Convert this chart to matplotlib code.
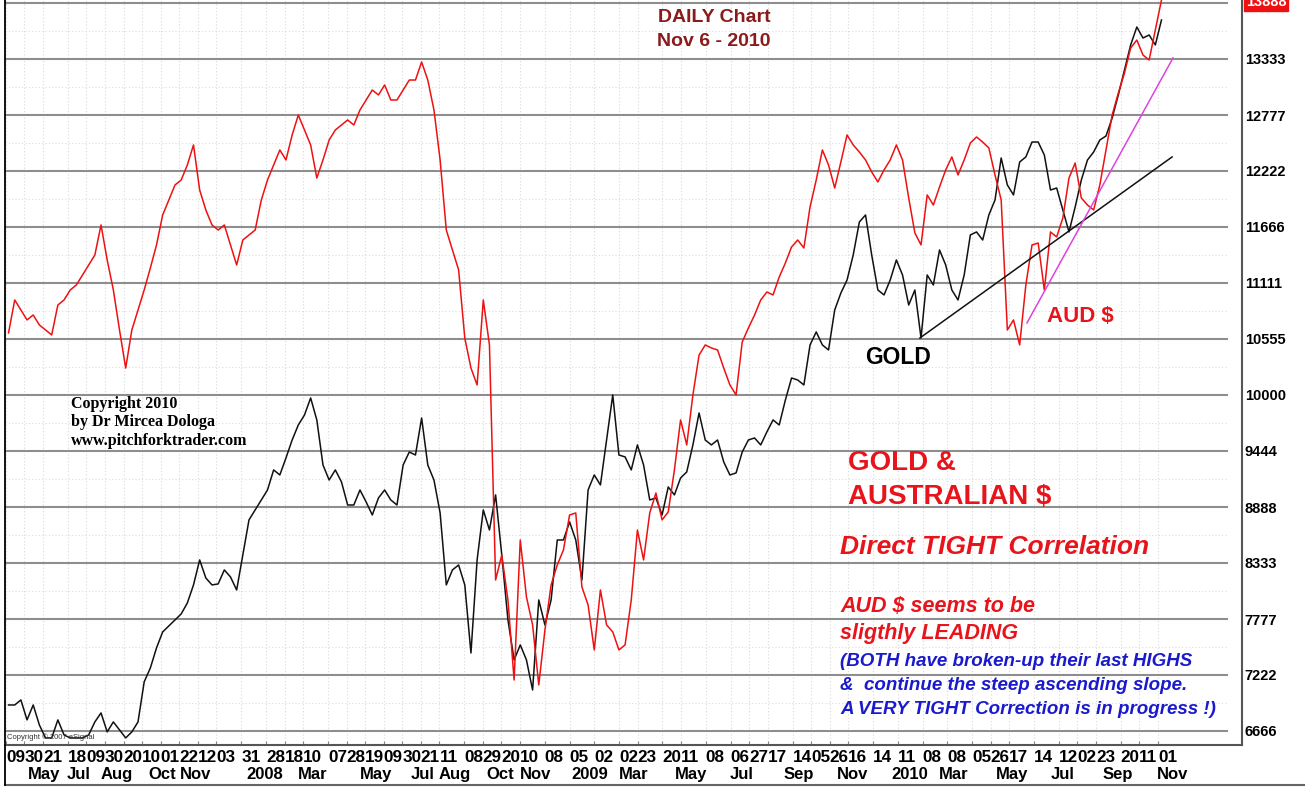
import matplotlib
matplotlib.use('Agg')
import matplotlib.pyplot as plt
import matplotlib.transforms as mtransforms
from matplotlib.lines import Line2D
import pandas as pd

plt.rcParams['font.family'] = ['Liberation Sans', 'DejaVu Sans']

W, H = 1305, 787

# ---------------- data ----------------
start_date = '2007-04-12'
end_date = '2010-11-05'

aud = [
    10615, 10942, 10843, 10744, 10793, 10694, 10644, 10595, 10892, 10942,
    11041, 11091, 11190, 11289, 11388, 11686, 11339, 11041, 10644, 10267,
    10644, 10843, 11041, 11259, 11488, 11785, 11934, 12083, 12132, 12281,
    12480, 12033, 11835, 11686, 11636, 11686, 11488, 11289, 11537, 11587,
    11636, 11934, 12132, 12281, 12430, 12331, 12579, 12777, 12628, 12480,
    12152, 12331, 12529, 12628, 12678, 12728, 12678, 12827, 12926, 13025,
    12976, 13075, 12926, 12926, 13025, 13124, 13124, 13303, 13124, 12827,
    12331, 11636, 11438, 11240, 10565, 10267, 10099, 10942, 10496, 8164,
    8412, 7966, 7172, 8561, 7996, 7718, 7123, 7668, 8115, 8313,
    8462, 8809, 8829, 8095, 7916, 7470, 8065, 7718, 7649, 7470,
    7520, 7966, 8660, 8363, 8829, 9027, 8760, 8839, 9256, 9752,
    9504, 10000, 10396, 10496, 10466, 10446, 10267, 10099, 10000, 10525,
    10664, 10793, 10942, 11021, 10992, 11170, 11309, 11468, 11537, 11458,
    11865, 12132, 12430, 12281, 12053, 12311, 12579, 12480, 12410, 12331,
    12212, 12113, 12232, 12331, 12480, 12331, 11954, 11607, 11488, 11984,
    11884, 12063, 12232, 12361, 12182, 12331, 12499, 12559, 12509, 12450,
    12182, 11934, 10644, 10744, 10496, 11091, 11488, 11507, 11041, 11617,
    11567, 11755, 12152, 12301, 11954, 11884, 11835, 12083, 12430, 12777,
    12995, 13194, 13442, 13521, 13372, 13323, 13620, 13918]

gold = [
    6924, 6924, 6974, 6776, 6924, 6726, 6597, 6597, 6776, 6627,
    6597, 6597, 6597, 6627, 6756, 6845, 6657, 6756, 6676, 6597,
    6657, 6756, 7153, 7291, 7490, 7649, 7708, 7768, 7827, 7936,
    8115, 8363, 8184, 8115, 8125, 8264, 8194, 8065, 8412, 8760,
    8859, 8958, 9057, 9256, 9206, 9375, 9553, 9702, 9801, 9970,
    9752, 9305, 9156, 9256, 9137, 8908, 8908, 9057, 8938, 8809,
    8978, 9057, 8958, 8908, 9305, 9434, 9404, 9771, 9305, 9156,
    8829, 8115, 8264, 8313, 8115, 7440, 8363, 8859, 8660, 9008,
    8412, 7768, 7371, 7520, 7371, 7073, 7966, 7718, 7966, 8561,
    8561, 8740, 8561, 8164, 9057, 9206, 9107, 9553, 10000, 9404,
    9385, 9256, 9504, 9305, 8958, 8978, 8809, 9087, 9008, 9176,
    9236, 9504, 9821, 9553, 9504, 9553, 9335, 9206, 9226, 9434,
    9553, 9573, 9504, 9633, 9752, 9702, 9950, 10168, 10148, 10099,
    10496, 10625, 10496, 10446, 10843, 11011, 11140, 11388, 11716, 11785,
    11388, 11041, 10992, 11140, 11339, 11190, 10892, 11041, 10565, 11190,
    11091, 11438, 11289, 11041, 10942, 11190, 11587, 11617, 11537, 11785,
    11934, 12351, 12083, 11984, 12311, 12361, 12509, 12509, 12380, 12033,
    12053, 11835, 11617, 11865, 12132, 12331, 12410, 12529, 12569, 12747,
    12976, 13224, 13472, 13650, 13541, 13571, 13472, 13720]

level_labels = ['6666', '7222', '7777', '8333', '8888', '9444', '10000',
                '10555', '11111', '11666', '12222', '12777', '13333', '13888']

day_tick_dates = [
    '2007-04-09', '2007-04-30', '2007-05-21', '2007-06-18', '2007-07-09',
    '2007-07-30', '2007-08-20', '2007-09-10', '2007-10-01', '2007-10-22',
    '2007-11-12', '2007-12-03', '2007-12-31', '2008-01-28', '2008-02-18',
    '2008-03-10', '2008-04-07', '2008-04-28', '2008-05-19', '2008-06-09',
    '2008-06-30', '2008-07-21', '2008-08-11', '2008-09-08', '2008-09-29',
    '2008-10-20', '2008-11-10', '2008-12-08', '2009-01-05', '2009-02-02',
    '2009-03-02', '2009-03-23', '2009-04-20', '2009-05-11', '2009-06-08',
    '2009-07-06', '2009-07-27', '2009-08-17', '2009-09-14', '2009-10-05',
    '2009-10-26', '2009-11-16', '2009-12-14', '2010-01-11', '2010-02-08',
    '2010-03-08', '2010-04-05', '2010-04-26', '2010-05-17', '2010-06-14',
    '2010-07-12', '2010-08-02', '2010-08-23', '2010-09-20', '2010-10-11',
    '2010-11-01']

month_labels = ['May', 'Jul', 'Aug', 'Oct', 'Nov', '2008', 'Mar', 'May', 'Jul',
                'Aug', 'Oct', 'Nov', '2009', 'Mar', 'May', 'Jul', 'Sep', 'Nov',
                '2010', 'Mar', 'May', 'Jul', 'Sep', 'Nov']
month_label_dates = ['2007-05-22', '2007-06-30', '2007-08-12', '2007-10-03',
                     '2007-11-09', '2008-01-27', '2008-03-21', '2008-05-31',
                     '2008-07-23', '2008-08-28', '2008-10-19', '2008-11-28',
                     '2009-01-28', '2009-03-19', '2009-05-22', '2009-07-18',
                     '2009-09-21', '2009-11-21', '2010-01-25', '2010-03-15',
                     '2010-05-20', '2010-07-16', '2010-09-17', '2010-11-17']

gold_trend_dates = ['2010-02-05', '2010-11-17']
gold_trend_values = [10565, 12361]
aud_trend_dates = ['2010-06-06', '2010-11-18']
aud_trend_values = [10714, 13343]

# ---------------- figure ----------------
dates = pd.date_range(start_date, end_date, periods=len(aud))

fig = plt.figure(figsize=(W / 100, H / 100), dpi=100)
ax_left, ax_right, ax_top, ax_bottom = 5, 1242, 0, 745
ax = fig.add_axes([ax_left / W, (H - ax_bottom) / H,
                   (ax_right - ax_left) / W, (ax_bottom - ax_top) / H])

ax.set_xlim(pd.Timestamp('2007-04-08'), pd.Timestamp('2011-02-04'))
ax.set_ylim(6527, 13918)

levels = [float(v) for v in level_labels]
# faint dotted grid
for d in day_tick_dates:
    ax.axvline(pd.Timestamp(d), color='#d9d9d9', lw=0.8, ls=(0, (1, 2)), zorder=0)
for a, b in zip(levels[:-1], levels[1:]):
    ax.axhline((a + b) / 2, color='#dddddd', lw=0.8, ls=(0, (1, 2)),
               xmax=0.988, zorder=0)
ax.axhline(levels[0] - 277, color='#dddddd', lw=0.8, ls=(0, (1, 2)), xmax=0.988, zorder=0)
for v in levels:
    ax.axhline(v, color='#8e8e8e', lw=1.5, xmax=0.988, zorder=1)

ax.plot(dates, gold, color='#111111', lw=1.1, zorder=3)
ax.plot(dates, aud, color='#ee1111', lw=1.1, zorder=4)

ax.plot(pd.to_datetime(gold_trend_dates), gold_trend_values, color='#111111', lw=1.1, zorder=5)
ax.plot(pd.to_datetime(aud_trend_dates), aud_trend_values, color='#dd44dd', lw=1.1, zorder=5)

# spines
ax.spines['top'].set_visible(False)
ax.spines['left'].set_color('black')
ax.spines['left'].set_linewidth(1.3)
ax.spines['bottom'].set_color('#555555')
ax.spines['bottom'].set_linewidth(1.5)
ax.spines['right'].set_color('#555555')
ax.spines['right'].set_linewidth(1.5)

# y ticks on right
ax.yaxis.tick_right()
ax.set_yticks(levels[:-1])
ax.set_yticklabels(level_labels[:-1], fontsize=10.5, fontweight='bold')
ax.tick_params(axis='y', length=0, pad=2)
# current price tag (partly above the top edge, as in the original)
ax.text(1.003, levels[-1] + 15, level_labels[-1],
        transform=mtransforms.blended_transform_factory(ax.transAxes, ax.transData),
        ha='left', va='center', fontsize=10.5, fontweight='bold', color='white',
        bbox=dict(boxstyle='square,pad=0.15', fc='#ee1111', ec='#ee1111'), clip_on=False)

# x ticks / labels
ax.set_xticks(pd.to_datetime(day_tick_dates))
ax.set_xticklabels([])
ax.tick_params(axis='x', length=3, direction='in', color='#888888')
trans = mtransforms.blended_transform_factory(ax.transData, ax.transAxes)
for d in day_tick_dates:
    ax.text(pd.Timestamp(d), -0.0165, d[8:10], transform=trans, ha='left', va='center',
            fontsize=12.3, fontweight='bold', clip_on=False)
for d, lab in zip(month_label_dates, month_labels):
    ax.text(pd.Timestamp(d), -0.039, lab, transform=trans, ha='center', va='center',
            fontsize=12, fontweight='bold', clip_on=False)

# outer frame of date area
fig.add_artist(Line2D([ax_left / W, 1.0], [1 - 785 / H] * 2, color='#666666', lw=1.5))
fig.add_artist(Line2D([ax_left / W] * 2, [1 - 785 / H, 1 - ax_bottom / H], color='black', lw=1.3))


def ft(x, y, s, **kw):
    fig.text(x / W, 1 - y / H, s, **kw)


dark_red = '#8b1a1a'
red = '#e8141b'
blue = '#1a1acc'
ft(714, 17, 'DAILY Chart', color=dark_red, fontsize=14, fontweight='bold', ha='center', va='center')
ft(714, 42, 'Nov 6 - 2010', color=dark_red, fontsize=14, fontweight='bold', ha='center', va='center')

for i, line in enumerate(['Copyright 2010', 'by Dr Mircea Dologa', 'www.pitchforktrader.com']):
    ft(71, 404 + 18.5 * i, line, family=['Liberation Serif', 'DejaVu Serif'], fontsize=11.5,
       fontweight='bold', ha='left', va='center')

ft(865, 357, 'GOLD', color='black', fontsize=16.5, fontweight='bold', ha='left', va='center')
ft(1047, 316, 'AUD $', color=red, fontsize=16, fontweight='bold', ha='left', va='center')
ft(848, 463, 'GOLD &', color=red, fontsize=20, fontweight='bold', ha='left', va='center')
ft(848, 497, 'AUSTRALIAN $', color=red, fontsize=20, fontweight='bold', ha='left', va='center')
ft(840, 547, 'Direct TIGHT Correlation', color=red, fontsize=19, fontweight='bold',
   style='italic', ha='left', va='center')
ft(840, 607, 'AUD $ seems to be', color=red, fontsize=15.5, fontweight='bold',
   style='italic', ha='left', va='center')
ft(840, 633, 'sligthly LEADING', color=red, fontsize=15.5, fontweight='bold',
   style='italic', ha='left', va='center')
ft(840, 662, '(BOTH have broken-up their last HIGHS', color=blue, fontsize=13.5,
   fontweight='bold', style='italic', ha='left', va='center')
ft(840, 686, '&  continue the steep ascending slope.', color=blue, fontsize=13.5,
   fontweight='bold', style='italic', ha='left', va='center')
ft(840, 709, 'A VERY TIGHT Correction is in progress !)', color=blue, fontsize=13.5,
   fontweight='bold', style='italic', ha='left', va='center')
ft(7, 737, 'Copyright © 2007 eSignal', color='#333333', fontsize=5.5, ha='left', va='center')

fig.savefig('out.png', dpi=100)
